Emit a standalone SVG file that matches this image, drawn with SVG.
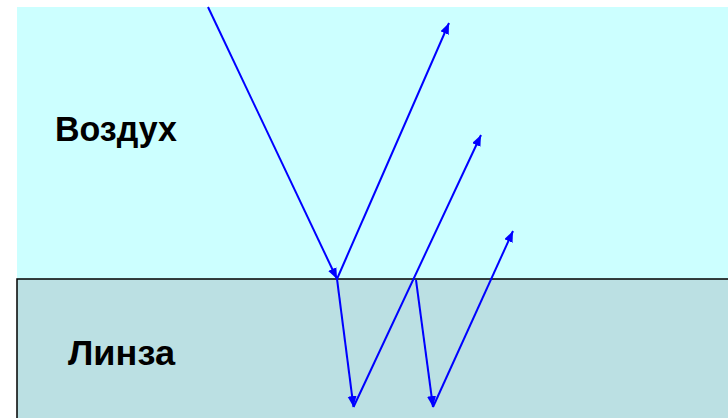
<svg xmlns="http://www.w3.org/2000/svg" width="728" height="418" viewBox="0 0 728 418">
<style>
.ray{stroke:#0000FF;stroke-width:2;fill:none;marker-end:url(#ah)}
.lbl{font-family:"Liberation Sans",Arial,sans-serif;font-weight:bold;font-size:34.5px;fill:#000}
</style>
<defs>
<marker id="ah" markerUnits="userSpaceOnUse" markerWidth="12" markerHeight="10" refX="11" refY="4.5" orient="auto">
<path d="M0,0 L11,4.5 L0,9 z" fill="#0000FF"/>
</marker>
</defs>
<rect width="728" height="418" fill="#fff"/>
<g id="air">
<rect x="17" y="7" width="711" height="272" fill="#CCFFFF"/>
<text class="lbl" x="55" y="141" textLength="122" lengthAdjust="spacingAndGlyphs">Воздух</text>
</g>
<g id="lens">
<rect x="17" y="279" width="711" height="139" fill="#BBE0E3"/>
<path d="M17,418 L17,279 L728,279" stroke="#000" stroke-width="1.5" fill="none"/>
<text class="lbl" x="68" y="365" textLength="107" lengthAdjust="spacingAndGlyphs">Линза</text>
</g>
<g id="connectors">
<line class="ray" x1="208" y1="7" x2="337" y2="279"/>
<line class="ray" x1="337" y1="279" x2="449" y2="23"/>
<line class="ray" x1="337" y1="279" x2="353.5" y2="407"/>
<line class="ray" x1="353.5" y1="407" x2="481" y2="135"/>
<line class="ray" x1="416" y1="280" x2="433" y2="407"/>
<line class="ray" x1="433" y1="407" x2="513" y2="231"/>
</g>
</svg>
